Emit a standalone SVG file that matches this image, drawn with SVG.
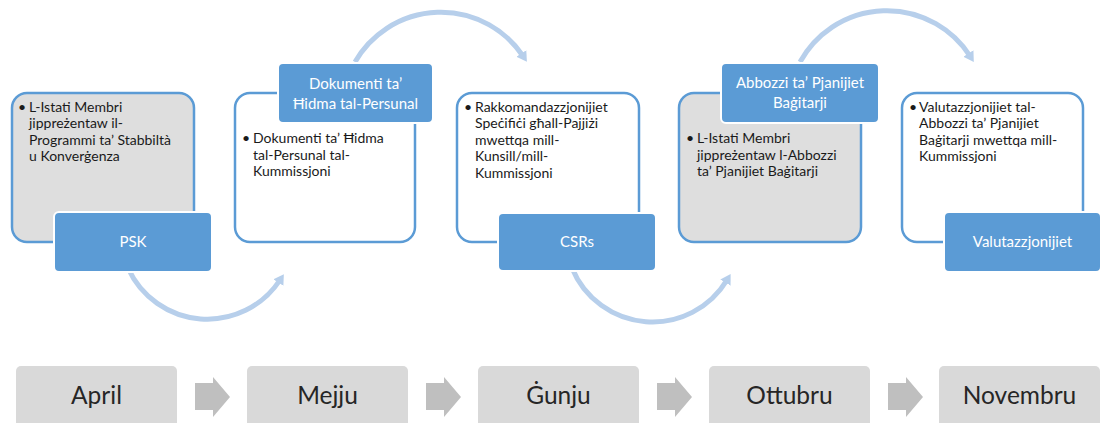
<svg xmlns="http://www.w3.org/2000/svg" width="1103" height="423" viewBox="0 0 1103 423">
<style>
.box{stroke:#5B9BD5;stroke-width:2.5}
.gray{fill:#DEDEDE}
.white{fill:#FFFFFF}
.tab{fill:#5B9BD5;stroke:#FFFFFF;stroke-width:2}
.tt{font-family:Lato,"Liberation Sans",sans-serif;font-size:15px;fill:#FFFFFF;text-anchor:middle}
.bt{font-family:Lato,"Liberation Sans",sans-serif;font-size:14px;fill:#1A1A1A}
.mbox{fill:#D9D9D9}
.mt{font-family:Lato,"Liberation Sans",sans-serif;font-size:24.5px;fill:#262626;text-anchor:middle}
.marr{fill:#BFBFBF}
.curve{fill:none;stroke:#B7CFEB;stroke-width:5}
</style>
<defs>
<marker id="ah" markerUnits="userSpaceOnUse" markerWidth="14" markerHeight="14" refX="3" refY="6" orient="auto">
<path d="M0,0 L10,6 L0,12 Z" fill="#B7CFEB"/>
</marker>
</defs>
<rect width="1103" height="423" fill="#FFFFFF"/>
<g id="connectors">
<path class="curve" d="M128,268 A87,87 0 0,0 280,280" marker-end="url(#ah)"/>
<path class="curve" d="M355,62 A99,99 0 0,1 523,56" marker-end="url(#ah)"/>
<path class="curve" d="M572,268 A87,87 0 0,0 727,280" marker-end="url(#ah)"/>
<path class="curve" d="M800,62 A99,99 0 0,1 970,56" marker-end="url(#ah)"/>
</g>
<g id="node-psk">
<rect class="box gray" x="12" y="93" width="182" height="149" rx="15"/>
<text class="bt"><tspan x="18" y="112">•</tspan><tspan x="29" y="112">L-Istati Membri</tspan><tspan x="29" y="128">jippreżentaw il-</tspan><tspan x="29" y="145">Programmi ta’ Stabbiltà</tspan><tspan x="29" y="161">u Konverġenza</tspan></text>
<rect class="tab" x="54" y="212" width="158" height="60" rx="5"/>
<text class="tt" x="133" y="247">PSK</text>
</g>
<g id="node-dokumenti">
<rect class="box white" x="235" y="93" width="180" height="149" rx="15"/>
<text class="bt"><tspan x="242" y="143">•</tspan><tspan x="253" y="143">Dokumenti ta’ Ħidma</tspan><tspan x="253" y="160">tal-Persunal tal-</tspan><tspan x="253" y="176">Kummissjoni</tspan></text>
<rect class="tab" x="278" y="63" width="155" height="60" rx="5"/>
<text class="tt"><tspan x="355.5" y="89">Dokumenti ta’</tspan><tspan x="355.5" y="109">Ħidma tal-Persunal</tspan></text>
</g>
<g id="node-csrs">
<rect class="box white" x="457" y="93" width="182" height="149" rx="15"/>
<text class="bt"><tspan x="464" y="112">•</tspan><tspan x="475" y="112">Rakkomandazzjonijiet</tspan><tspan x="475" y="128">Speċifiċi għall-Pajjiżi</tspan><tspan x="475" y="145">mwettqa mill-</tspan><tspan x="475" y="161">Kunsill/mill-</tspan><tspan x="475" y="178">Kummissjoni</tspan></text>
<rect class="tab" x="498" y="213" width="158" height="58" rx="5"/>
<text class="tt" x="577" y="247">CSRs</text>
</g>
<g id="node-abbozzi">
<rect class="box gray" x="679" y="93" width="182" height="149" rx="15"/>
<text class="bt"><tspan x="686" y="143">•</tspan><tspan x="697" y="143">L-Istati Membri</tspan><tspan x="697" y="160">jippreżentaw l-Abbozzi</tspan><tspan x="697" y="176">ta’ Pjanijiet Baġitarji</tspan></text>
<rect class="tab" x="721" y="63" width="158" height="60" rx="5"/>
<text class="tt"><tspan x="800" y="88">Abbozzi ta’ Pjanijiet</tspan><tspan x="800" y="108">Baġitarji</tspan></text>
</g>
<g id="node-valutazzjonijiet">
<rect class="box white" x="902" y="93" width="181" height="149" rx="15"/>
<text class="bt"><tspan x="909" y="112">•</tspan><tspan x="919" y="112">Valutazzjonijiet tal-</tspan><tspan x="919" y="128">Abbozzi ta’ Pjanijiet</tspan><tspan x="919" y="145">Baġitarji mwettqa mill-</tspan><tspan x="919" y="161">Kummissjoni</tspan></text>
<rect class="tab" x="944" y="212" width="157" height="60" rx="5"/>
<text class="tt" x="1022.5" y="247">Valutazzjonijiet</text>
</g>
<g id="month-april">
<rect class="mbox" x="16" y="366" width="161" height="70" rx="5"/>
<text class="mt" x="96.5" y="404">April</text>
</g>
<g id="month-mejju">
<rect class="mbox" x="247" y="366" width="161" height="70" rx="5"/>
<text class="mt" x="327.5" y="404">Mejju</text>
</g>
<g id="month-gunju">
<rect class="mbox" x="478" y="366" width="161" height="70" rx="5"/>
<text class="mt" x="558.5" y="404">Ġunju</text>
</g>
<g id="month-ottubru">
<rect class="mbox" x="709" y="366" width="161" height="70" rx="5"/>
<text class="mt" x="789.5" y="404">Ottubru</text>
</g>
<g id="month-novembru">
<rect class="mbox" x="939" y="366" width="161" height="70" rx="5"/>
<text class="mt" x="1019.5" y="404">Novembru</text>
</g>
<g id="month-arrows">
<path class="marr" d="M195,383 H213 V377 L230,397 L213,417 V410 H195 Z"/>
<path class="marr" d="M426,383 H444 V377 L461,397 L444,417 V410 H426 Z"/>
<path class="marr" d="M657,383 H675 V377 L692,397 L675,417 V410 H657 Z"/>
<path class="marr" d="M888,383 H906 V377 L923,397 L906,417 V410 H888 Z"/>
</g>
</svg>
